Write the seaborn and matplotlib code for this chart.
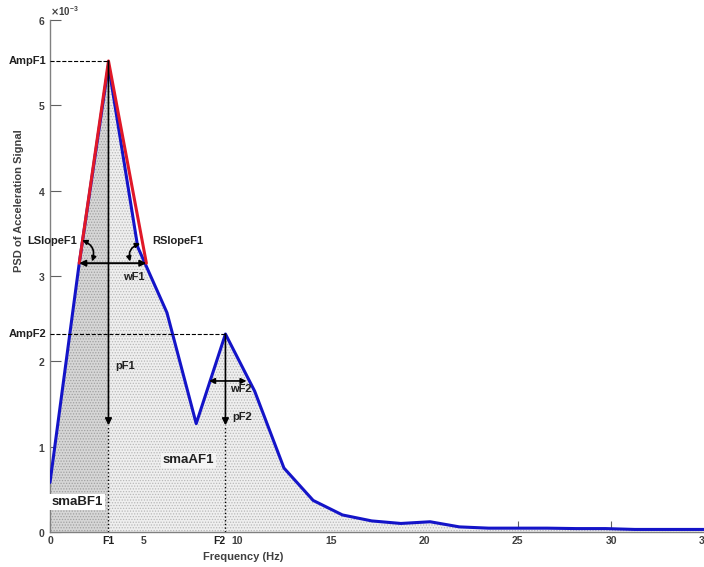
import matplotlib
matplotlib.use('Agg')
import matplotlib.pyplot as plt
import seaborn as sns
import numpy as np
import pandas as pd

# PSD of acceleration signal
freq = [0.0, 1.5625, 3.125, 4.6875, 6.25, 7.8125, 9.375, 10.9375, 12.5, 14.0625,
        15.625, 17.1875, 18.75, 20.3125, 21.875, 23.4375, 25.0, 26.5625, 28.125,
        29.6875, 31.25, 32.8125, 34.375, 35.9375]
psd = [0.58, 3.15, 5.47, 3.34, 2.57, 1.27, 2.32, 1.65, 0.75, 0.37,
       0.20, 0.13, 0.10, 0.12, 0.06, 0.045, 0.045, 0.045, 0.04,
       0.04, 0.03, 0.03, 0.03, 0.03]
psd = [v * 1e-3 for v in psd]

f1, f2 = 3.125, 9.375
amp_f1, amp_f2 = 5.52e-3, 2.32e-3
slope_x = [1.5625, 3.125, 5.15]      # red triangle, left / apex / right
slope_y = [3.15e-3, 5.52e-3, 3.15e-3]
wf2_x = [8.5, 10.5]
wf2_y = 1.77e-3
arrow_end = 1.25e-3

df = pd.DataFrame({'freq': freq, 'psd': psd})

sns.set_style('ticks')
plt.rcParams['font.family'] = ['Liberation Sans', 'DejaVu Sans']
plt.rcParams['font.weight'] = 'bold'
plt.rcParams['hatch.linewidth'] = 0.6

fig = plt.figure(figsize=(7.04, 5.67), dpi=100)
ax = fig.add_axes([50 / 704, 35 / 567, 655 / 704, 512 / 567])

# shaded areas before / after F1
x = np.array(freq)
y = np.array(psd)
left = x <= f1
right = x >= f1
ax.fill_between(x[left], y[left], facecolor='#d6d6d6', hatch='......',
                edgecolor='#a0a0a0', linewidth=0, zorder=1)
ax.fill_between(x[right], y[right], facecolor='#efefef',
                hatch='......', edgecolor='#b8b8b8', linewidth=0, zorder=1)

sns.lineplot(data=df, x='freq', y='psd', color='#1414c8', linewidth=2.2,
             ax=ax, zorder=3)
ax.plot(slope_x, slope_y, color='#e01828', linewidth=2.2, zorder=4)

# amplitude guides
ax.plot([0, f1], [amp_f1, amp_f1], '--', color='k', lw=0.8, zorder=5)
ax.plot([0, f2], [amp_f2, amp_f2], '--', color='k', lw=0.8, zorder=5)

# pF1 / pF2 arrows
for fx, top in [(f1, amp_f1), (f2, amp_f2)]:
    ax.annotate('', xy=(fx, arrow_end), xytext=(fx, top),
                arrowprops=dict(arrowstyle='-|>', color='k', lw=1.2,
                                mutation_scale=10, shrinkA=0, shrinkB=0), zorder=6)
    ax.plot([fx, fx], [0, arrow_end], ':', color='k', lw=1, zorder=5)

# widths
ax.annotate('', xy=(slope_x[0], slope_y[0]), xytext=(slope_x[2], slope_y[2]),
            arrowprops=dict(arrowstyle='<|-|>', color='k', lw=1.4,
                            mutation_scale=9, shrinkA=0, shrinkB=0), zorder=6)
ax.annotate('', xy=(wf2_x[0], wf2_y), xytext=(wf2_x[1], wf2_y),
            arrowprops=dict(arrowstyle='<|-|>', color='k', lw=1.2,
                            mutation_scale=8, shrinkA=0, shrinkB=0), zorder=6)

# slope angle arcs
ax.annotate('', xy=(2.25, 3.17e-3), xytext=(1.72, 3.42e-3),
            arrowprops=dict(arrowstyle='<|-|>', color='k', lw=1.2, mutation_scale=7,
                            connectionstyle='arc3,rad=-0.45', shrinkA=0, shrinkB=0),
            zorder=6)
ax.annotate('', xy=(4.28, 3.17e-3), xytext=(4.82, 3.38e-3),
            arrowprops=dict(arrowstyle='<|-|>', color='k', lw=1.2, mutation_scale=7,
                            connectionstyle='arc3,rad=0.45', shrinkA=0, shrinkB=0),
            zorder=6)

# labels
lab = dict(fontsize=8, fontweight='bold', color='#202020', zorder=7)
ax.text(0.1, 3.41e-3, 'LSlopeF1', ha='center', va='center', **lab)
ax.text(6.8, 3.41e-3, 'RSlopeF1', ha='center', va='center', **lab)
ax.text(4.5, 2.99e-3, 'wF1', ha='center', va='center', **lab)
ax.text(3.5, 1.95e-3, 'pF1', ha='left', va='center', **lab)
ax.text(9.6, 1.68e-3, 'wF2', ha='left', va='center', **lab)
ax.text(9.75, 1.35e-3, 'pF2', ha='left', va='center', **lab)
ax.text(7.4, 0.84e-3, 'smaAF1', ha='center', va='center', fontsize=9.5,
        color='#202020', zorder=7,
        bbox=dict(facecolor='#f4f4f4', edgecolor='none', pad=1))
ax.text(1.45, 0.35e-3, 'smaBF1', ha='center', va='center', fontsize=9.5,
        color='#202020', zorder=7,
        bbox=dict(facecolor='white', edgecolor='none', pad=1.5))

ytr = ax.get_yaxis_transform()
ax.text(-0.005, amp_f1, 'AmpF1', transform=ytr, ha='right', va='center', **lab)
ax.text(-0.005, amp_f2, 'AmpF2', transform=ytr, ha='right', va='center', **lab)

# axes
ax.set_xlim(0, 35)
ax.set_ylim(0, 6e-3)
ax.set_xticks([0, 5, 10, 15, 20, 25, 30, 35])
ax.set_xticks([f1, f2], minor=True)
ax.set_xticklabels(['F1', 'F2'], minor=True)
ax.set_yticks([0, 1e-3, 2e-3, 3e-3, 4e-3, 5e-3, 6e-3])
ax.ticklabel_format(axis='y', style='sci', scilimits=(0, 0), useMathText=True)
ax.yaxis.get_offset_text().set_fontsize(7)
ax.yaxis.get_offset_text().set_color('#404040')
ax.tick_params(axis='both', which='major', direction='in', length=8, width=0.8,
               color='#606060', labelsize=7.5, labelcolor='#404040', pad=3)
ax.tick_params(axis='x', which='minor', length=0, labelsize=7.5, labelcolor='#202020',
               pad=3)
for t in ax.get_xticklabels(which='both') + ax.get_yticklabels():
    t.set_fontweight('bold')
# keep the F2 label clear of the 10 label, as in the reference
ax.get_xticklabels(minor=True)[1].set_horizontalalignment('right')
ax.get_xticklabels(minor=True)[1].set_x(f2 + 0.35)

sns.despine(ax=ax)
for s in ['left', 'bottom']:
    ax.spines[s].set_color('#808080')
    ax.spines[s].set_linewidth(1.0)

ax.set_xlabel('Frequency (Hz)', fontsize=8, fontweight='bold', color='#404040')
ax.set_ylabel('PSD of Acceleration Signal', fontsize=8, fontweight='bold',
              color='#404040')
ax.xaxis.set_label_coords(0.295, -0.04)
ax.yaxis.set_label_coords(-0.04, 0.648)

fig.savefig('out.png', dpi=100)
